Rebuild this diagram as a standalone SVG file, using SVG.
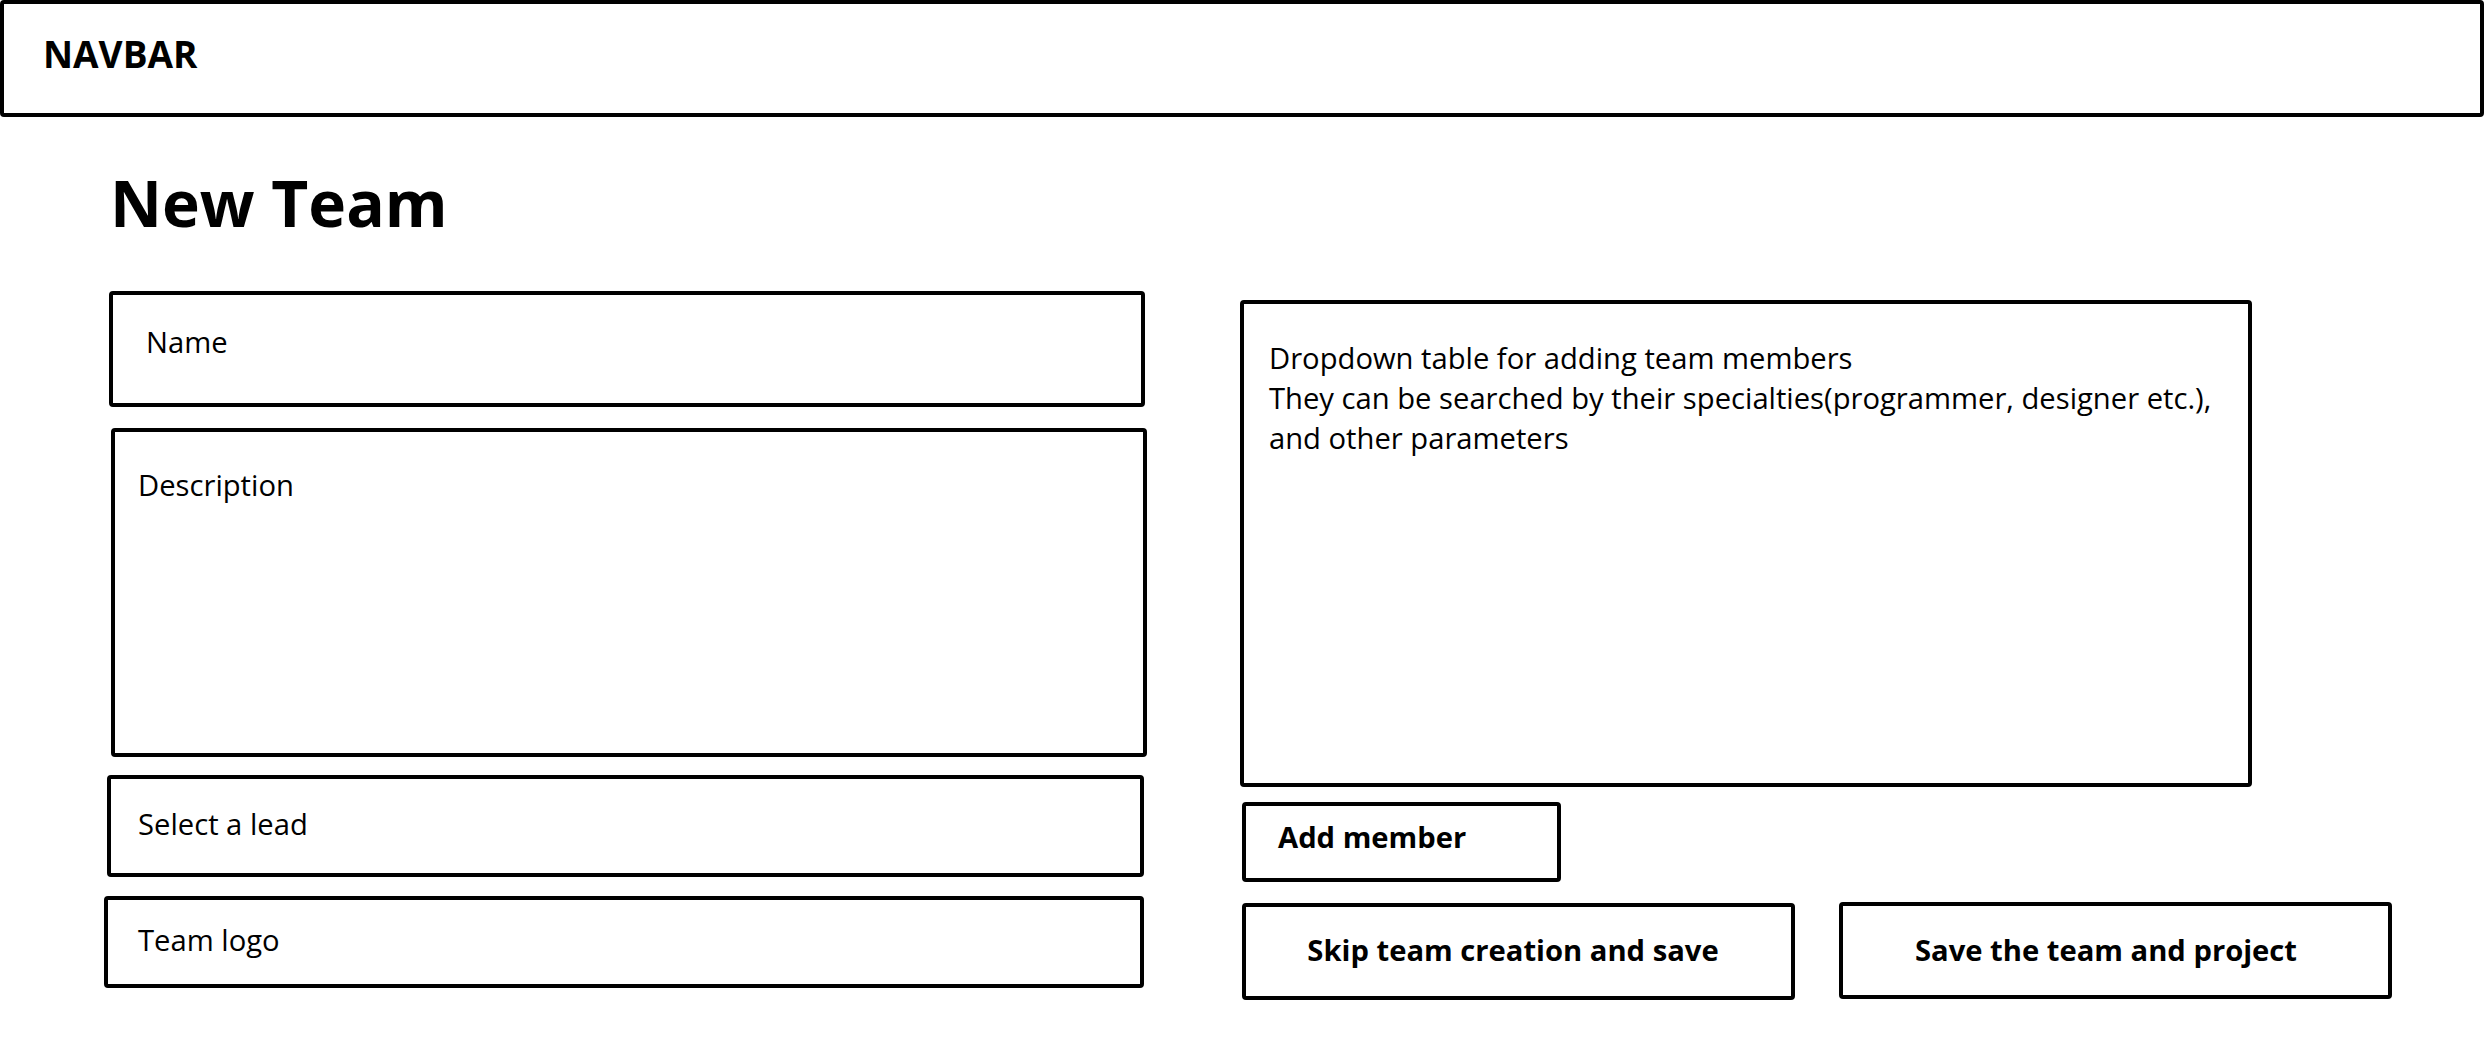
<svg xmlns="http://www.w3.org/2000/svg" width="2484" height="1040" viewBox="0 0 2484 1040">
<style>
.box{fill:#fff;stroke:#000;stroke-width:4}
.t{font-family:"Open Sans","Noto Sans",sans-serif;fill:#000;font-size:29.2px}
.b{font-weight:bold}
.nav{font-size:37px}
.h1{font-size:64px}
</style>
<rect width="2484" height="1040" fill="#fff"/>
<g id="navbar"><rect class="box" x="2" y="2" width="2480" height="113" rx="2"/><text class="t b nav" x="43" y="68">NAVBAR</text></g>
<g id="title"><text class="t b h1" x="110" y="227">New Team</text></g>
<g id="name"><rect class="box" x="111" y="293" width="1032" height="112" rx="2"/><text class="t" x="146" y="353">Name</text></g>
<g id="description"><rect class="box" x="113" y="430" width="1032" height="325" rx="2"/><text class="t" x="138" y="496">Description</text></g>
<g id="lead"><rect class="box" x="109" y="777" width="1033" height="98" rx="2"/><text class="t" x="138" y="835">Select a lead</text></g>
<g id="logo"><rect class="box" x="106" y="898" width="1036" height="88" rx="2"/><text class="t" x="138" y="951">Team logo</text></g>
<g id="dropdown"><rect class="box" x="1242" y="302" width="1008" height="483" rx="2"/>
<text class="t" x="1269" y="369">Dropdown table for adding team members</text>
<text class="t" x="1269" y="409">They can be searched by their specialties(programmer, designer etc.),</text>
<text class="t" x="1269" y="449">and other parameters</text></g>
<g id="add-member"><rect class="box" x="1244" y="804" width="315" height="76" rx="2"/><text class="t b" x="1278" y="848">Add member</text></g>
<g id="skip"><rect class="box" x="1244" y="905" width="549" height="93" rx="2"/><text class="t b" x="1513" y="961" text-anchor="middle">Skip team creation and save</text></g>
<g id="save"><rect class="box" x="1841" y="904" width="549" height="93" rx="2"/><text class="t b" x="2106" y="961" text-anchor="middle">Save the team and project</text></g>
<g id="connectors"></g>
</svg>
